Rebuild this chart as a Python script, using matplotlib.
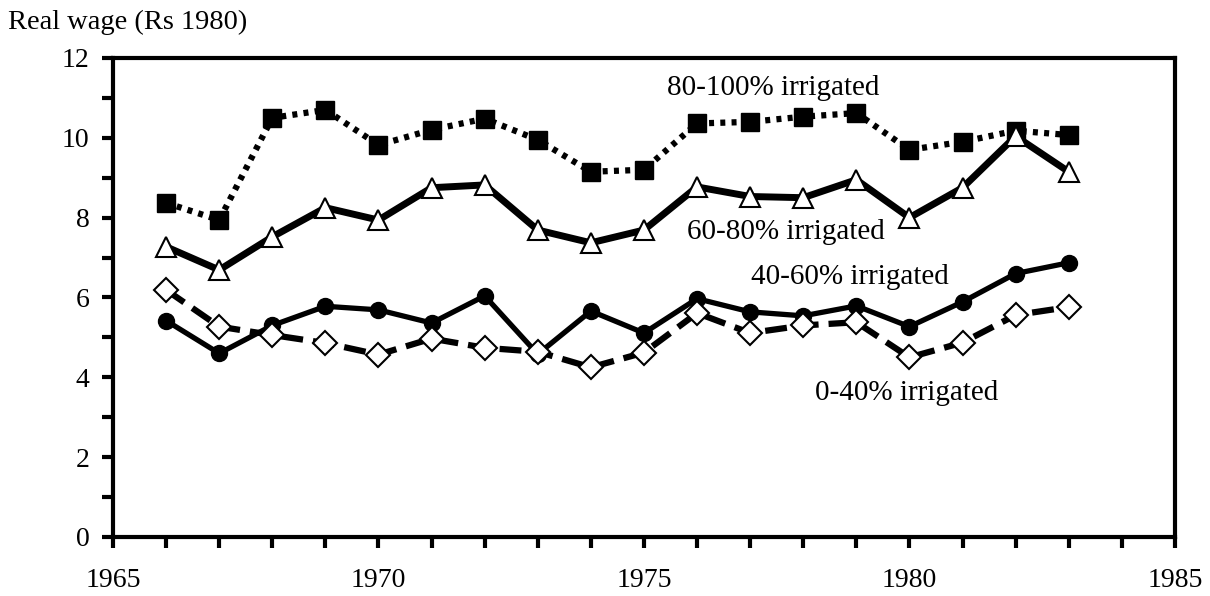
import matplotlib
matplotlib.use("Agg")
import matplotlib.pyplot as plt
import numpy as np

plt.rcParams["font.family"] = ["Liberation Serif", "DejaVu Serif"]

# Real agricultural wage by irrigation class, 1966-1983
YEARS = np.arange(1966, 1984)

IRR_80_100 = [8.37, 7.94, 10.5, 10.7, 9.82, 10.2, 10.48, 9.95, 9.15, 9.2,
              10.36, 10.4, 10.53, 10.62, 9.7, 9.9, 10.18, 10.07]
IRR_60_80 = [7.27, 6.69, 7.52, 8.25, 7.94, 8.75, 8.82, 7.69, 7.37, 7.69,
             8.77, 8.53, 8.5, 8.95, 8.0, 8.75, 10.04, 9.15]
IRR_40_60 = [5.42, 4.6, 5.3, 5.78, 5.69, 5.36, 6.04, 4.58, 5.66, 5.11,
             5.97, 5.64, 5.54, 5.79, 5.27, 5.89, 6.6, 6.87]
IRR_0_40 = [6.19, 5.27, 5.06, 4.86, 4.57, 4.97, 4.74, 4.64, 4.25, 4.62,
            5.61, 5.11, 5.3, 5.38, 4.5, 4.87, 5.56, 5.76]

LABELS = ["80-100% irrigated", "60-80% irrigated", "40-60% irrigated", "0-40% irrigated"]
LABEL_POS = [(1977.43, 11.25), (1977.68, 7.64), (1978.87, 6.52), (1979.94, 3.61)]

fig = plt.figure(figsize=(12.1, 5.96), dpi=100)
ax = fig.add_axes([0.0934, 0.099, 0.8776, 0.8037])

ax.plot(YEARS, IRR_80_100, color="black", lw=4.5, linestyle=(0, (0.8, 1.0)),
        marker="s", ms=13, mfc="black", mec="black", zorder=3)
ax.plot(YEARS, IRR_60_80, color="black", lw=5, linestyle="-",
        marker="^", ms=15, mfc="white", mec="black", mew=1.5, zorder=4)
ax.plot(YEARS, IRR_40_60, color="black", lw=3.8, linestyle="-",
        marker="o", ms=11.5, mfc="black", mec="black", zorder=3)
ax.plot(YEARS, IRR_0_40, color="black", lw=4.5, linestyle=(0, (3.5, 1.6)),
        marker="D", ms=12, mfc="white", mec="black", mew=1.5, zorder=4)

for text, (x, y) in zip(LABELS, LABEL_POS):
    ax.text(x, y, text, fontsize=21, ha="center", va="center")

ax.set_xlim(1965, 1985)
ax.set_ylim(0, 12)
ax.set_xticks([1965, 1970, 1975, 1980, 1985])
ax.set_xticks(np.arange(1965, 1986), minor=True)
ax.set_yticks(np.arange(0, 13, 2))
ax.set_yticks(np.arange(0, 13, 1), minor=True)

for side in ax.spines.values():
    side.set_linewidth(3)

ax.tick_params(axis="both", which="both", direction="out", width=3, length=8, labelsize=20)
ax.tick_params(axis="x", pad=14)
ax.tick_params(axis="y", pad=9)

fig.text(0.007, 0.963, "Real wage (Rs 1980)", fontsize=20.5, ha="left", va="center")

fig.savefig("out.png", dpi=100)
